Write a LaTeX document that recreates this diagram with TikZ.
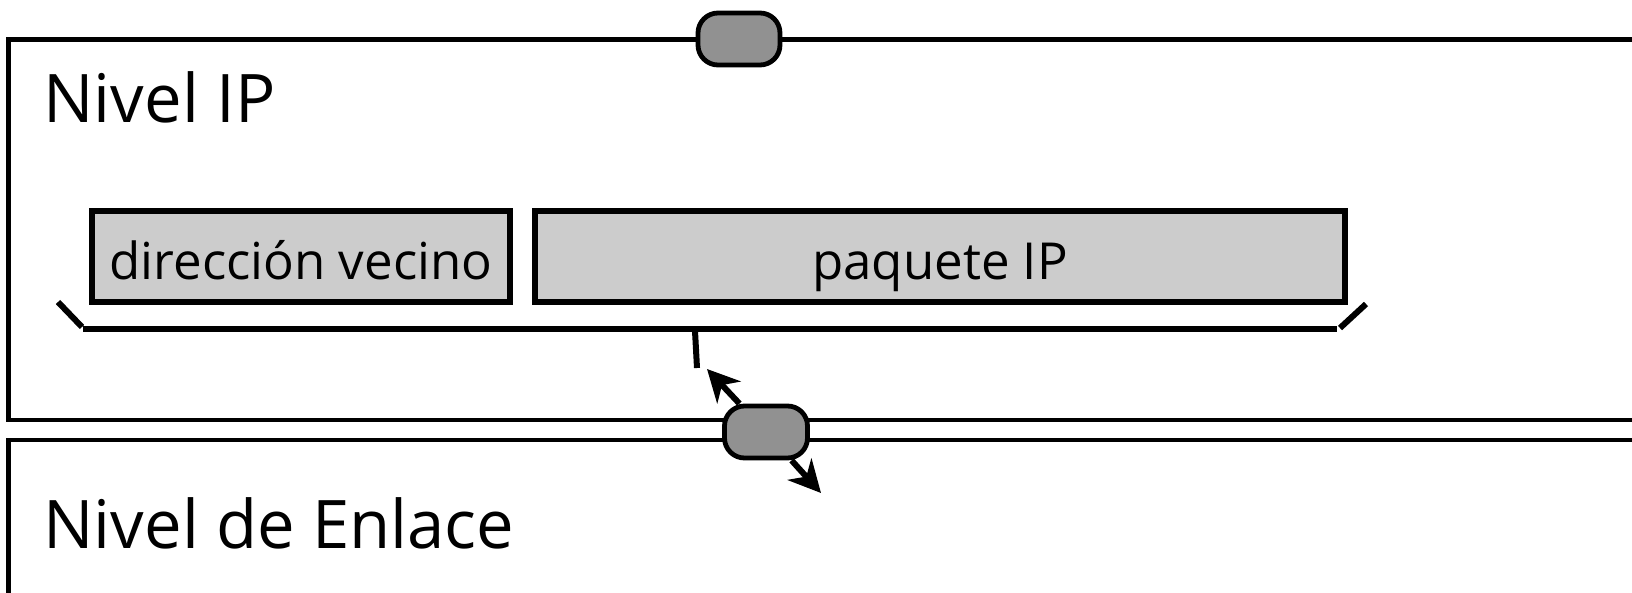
\documentclass[tikz,border=0pt]{standalone}
\usepackage{fontspec}
\setmainfont{Open Sans}
\usetikzlibrary{arrows.meta}
\definecolor{fieldgray}{HTML}{CCCCCC}
\definecolor{pillgray}{HTML}{919191}
\begin{document}
\begin{tikzpicture}[x=0.5pt,y=-0.5pt,
  layer/.style={line width=2.4pt},
  pill/.style={draw,line width=2.4pt,fill=pillgray,rounded corners=10pt,
    minimum width=41pt,minimum height=26pt,inner sep=0pt},
  field/.style={draw,line width=2.6pt,fill=fieldgray,minimum height=45.5pt,
    inner sep=0pt,font=\fontsize{25.5}{30}\selectfont,text height=24pt,text depth=1.5pt},
  title/.style={anchor=base west,inner sep=0pt,font=\fontsize{33.5}{40}\selectfont},
  brace/.style={line width=3pt},
  arr/.style={line width=3pt,-{Stealth[length=16pt,width=16pt,inset=5pt]}}
]
\useasboundingbox (0,0) rectangle (1632,593);

% the two layers, open to the right
\draw[layer] (1650,39.5) -- (8.5,39.5) -- (8.5,420) -- (1650,420);
\draw[layer] (1650,440) -- (8.5,440) -- (8.5,610);

\node[title] (ipTitle) at (43,123) {Nivel IP};
\node[title] (linkTitle) at (43,548) {Nivel de Enlace};

% fields of the frame handed down
\node[field,minimum width=209pt] (addr) at (301,256.5) {dirección vecino};
\node[field,minimum width=405pt] (packet) at (940,256.5) {paquete IP};

% brace under the fields
\draw[brace] (58,302) -- (82,327);
\draw[brace] (83,329) -- (1337,329);
\draw[brace] (1340,328) -- (1366,304);
\coordinate (tickTop) at (695,331);
\coordinate (tickEnd) at (697,368);
\draw[brace] (tickTop) -- (tickEnd);

% service access points
\node[pill] (sapTop) at (739,39) {};
\node[pill,minimum width=41.5pt] (sapMid) at (766,432) {};

\coordinate (upTip) at (707,369);
\coordinate (downTip) at (821,493);
\draw[arr] (sapMid) -- (upTip);
\draw[arr] (sapMid) -- (downTip);
\end{tikzpicture}
\end{document}
